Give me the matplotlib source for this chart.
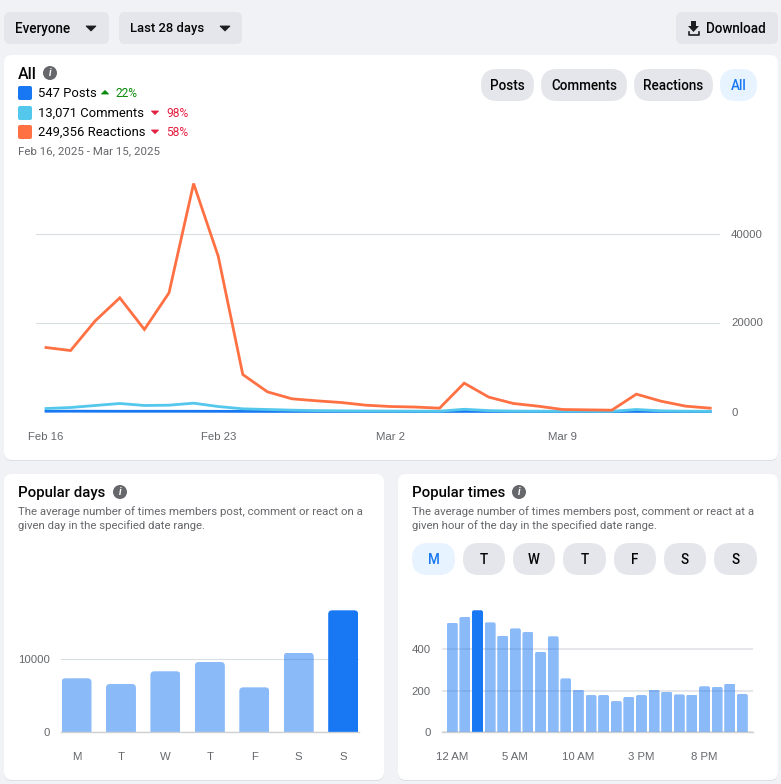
import matplotlib
matplotlib.use('Agg')
import matplotlib.pyplot as plt
from matplotlib.patches import FancyBboxPatch, Circle, Polygon
from matplotlib.transforms import IdentityTransform

W, H = 781, 784
UI_FONT = 'Roboto'
CHART_FONT = 'Liberation Sans'
BLUE = '#1877f2'
GREY = '#65676b'
PILL = '#e4e6eb'
ACTIVE = '#e7f3ff'

# main chart, one value per day from Feb 16 to Mar 15
reactions = [14380, 13700, 20370, 25540, 18430, 26660, 51230, 34900, 8310, 4420,
             2850, 2400, 2020, 1420, 1120, 1000, 750, 6370, 3230, 1800,
             1200, 450, 370, 300, 3900, 2320, 1200, 750]
comments = [670, 900, 1350, 1800, 1350, 1420, 1870, 1120, 600, 450,
            300, 200, 150, 120, 100, 80, 70, 500, 200, 100,
            70, 50, 40, 40, 450, 150, 70, 50]
posts = [60, 70, 60, 50, 50, 50, 50, 40, 30, 20,
         15, 15, 15, 15, 10, 10, 10, 15, 10, 10,
         10, 5, 5, 5, 15, 10, 5, 5]
date_ticks = [0, 7, 14, 21]
date_labels = ['Feb 16', 'Feb 23', 'Mar 2', 'Mar 9']

day_labels = ['M', 'T', 'W', 'T', 'F', 'S', 'S']
day_values = [7400, 6620, 8360, 9630, 6160, 10910, 16710]

hour_values = [526, 554, 586, 528, 464, 499, 482, 387, 461, 259, 205, 179,
               179, 150, 170, 179, 205, 195, 182, 181, 221, 218, 234, 184]
hour_ticks = [0, 5, 10, 15, 20]
hour_labels = ['12 AM', '5 AM', '10 AM', '3 PM', '8 PM']

fig = plt.figure(figsize=(W / 100, H / 100), dpi=100, facecolor='#f0f2f5')
bg = fig.add_axes([0, 0, 1, 1])
bg.set_xlim(0, W)
bg.set_ylim(H, 0)
bg.axis('off')


def box(x0, y0, x1, y1, r, color, z=1):
    bg.add_patch(FancyBboxPatch((x0, y0), x1 - x0, y1 - y0, boxstyle='round,pad=0,rounding_size=%g' % r,
                                fc=color, ec='none', zorder=z))


def txt(x, y, s, px=12, color='#050505', ha='left', weight='normal', font=UI_FONT, **kw):
    bg.text(x, y + 0.5, s, fontsize=px * 0.72, color=color, ha=ha, va='center', fontweight=weight,
            family=font, zorder=5, **kw)


def pill(x0, x1, y0, y1, s, active=False, px=13.5):
    box(x0, y0, x1, y1, (y1 - y0) / 2, ACTIVE if active else PILL, 2)
    txt((x0 + x1) / 2, (y0 + y1) / 2, s, px, BLUE if active else '#050505', 'center', 'medium')


def info(x, y):
    bg.add_patch(Circle((x, y), 7, fc=GREY, ec='none', zorder=3))
    txt(x, y - 0.5, 'i', 10, 'white', 'center', 'bold', style='italic')


def arrow(x, y, up, color):
    d = -1 if up else 1
    bg.add_patch(Polygon([(x - 3.5, y - d * 1.5), (x + 3.5, y - d * 1.5), (x, y + d * 2)], fc=color, ec=color,
                         lw=0.6, joinstyle='round', zorder=3))


def card(x0, y0, x1, y1):
    box(x0, y0 + 1, x1, y1 + 1, 8, '#dcdfe4', 1)
    box(x0, y0, x1, y1, 8, 'white', 1.5)


# page controls
for x0, x1, label, lx, cx, size in [(4, 109, 'Everyone', 15, 91, 13.5), (119, 242, 'Last 28 days', 130, 225, 13)]:
    box(x0, 12, x1, 44, 6, PILL, 2)
    txt(lx, 28, label, size, weight='medium')
    bg.add_patch(Polygon([(cx - 5, 26), (cx + 5, 26), (cx, 31)], fc='#1c1e21', ec='#1c1e21', lw=0.6, zorder=3))
box(676, 12, 778, 44, 6, PILL, 2)
txt(706, 28, 'Download', 13.5, weight='medium')
bg.add_patch(Polygon([(691, 21), (696, 21), (696, 26), (699, 26), (693.5, 32), (688, 26), (691, 26)],
                     fc='#1c1e21', ec='none', zorder=3))
bg.plot([688.5, 688.5, 698.5, 698.5], [32, 34.5, 34.5, 32], color='#1c1e21', lw=1.2, zorder=3)

card(4, 55, 778, 460)
card(4, 474, 384, 780)
card(398, 474, 778, 780)

# main card header
txt(18, 74, 'All', 16, weight='medium')
info(50, 73)
legend_rows = [(93, BLUE, '547 Posts', 105, True, '#0a8a0a', 116, '22%'),
               (113, '#54c7ec', '13,071 Comments', 155, False, '#e41e3f', 166, '98%'),
               (132, '#ff7043', '249,356 Reactions', 155, False, '#e41e3f', 166, '58%')]
for y, c, label, ax_, up, pc, px_, pct in legend_rows:
    box(18, y - 7, 32, y + 7, 2, c, 2)
    txt(38, y, label, 13)
    arrow(ax_, y - 0.5, up, pc)
    txt(px_, y - 0.5, pct, 12, pc)
txt(18, 151, 'Feb 16, 2025 - Mar 15, 2025', 11.5, GREY)
pill(481, 534, 69, 101, 'Posts')
pill(541, 627, 69, 101, 'Comments')
pill(634, 713, 69, 101, 'Reactions')
pill(720, 757, 69, 101, 'All', True)

# lower card headers
txt(18, 492, 'Popular days', 15, weight='medium')
info(120, 492)
txt(18, 511, 'The average number of times members post, comment or react on a', 11.4, GREY)
txt(18, 525, 'given day in the specified date range.', 11.4, GREY)
txt(412, 492, 'Popular times', 15, weight='medium')
info(519, 492)
txt(412, 511, 'The average number of times members post, comment or react at a', 11.4, GREY)
txt(412, 525, 'given hour of the day in the specified date range.', 11.4, GREY)
pill_edges = [(412, 455), (463, 505), (513, 555), (563, 606), (614, 656), (664, 706), (714, 757)]
for i, (x0, x1) in enumerate(pill_edges):
    pill(x0, x1, 543, 575, day_labels[i], i == 0)


def chart_axes(left, top, right, bottom, x0_px, step, y_per_px):
    # axes placed in pixels, limits worked out so that index 0 sits on x0_px
    ax = fig.add_axes([left / W, 1 - bottom / H, (right - left) / W, (bottom - top) / H])
    ax.patch.set_alpha(0)
    ax.set_xlim((left - x0_px) / step, (right - x0_px) / step)
    ax.set_ylim(0, (bottom - top) * y_per_px)
    for s in ax.spines.values():
        s.set_visible(False)
    ax.set_axisbelow(True)
    return ax


def style_ticks(ax, xpad_px, ypad_px, grid_color='#dadde1', grid_lw=0.8):
    ax.grid(axis='y', color=grid_color, lw=grid_lw)
    ax.grid(axis='x', visible=False)
    ax.tick_params(axis='x', length=0, pad=xpad_px * 0.72, labelsize=8.2, labelcolor=GREY,
                   labelfontfamily=CHART_FONT)
    ax.tick_params(axis='y', length=0, pad=ypad_px * 0.72, labelsize=8.2, labelcolor=GREY,
                   labelfontfamily=CHART_FONT)


def round_tops(ax, bars, r):
    fig.canvas.draw()
    for b in bars:
        e = b.get_window_extent()
        clip = FancyBboxPatch((e.x0, e.y0 - 10), e.width, e.height + 10,
                              boxstyle='round,pad=0,rounding_size=%g' % r, transform=IdentityTransform())
        b.set_clip_path(clip)


# main line chart
ax = chart_axes(36, 170, 720, 411.5, 46, 24.6, 20000 / 89)
days = list(range(len(reactions)))
ax.plot(days, posts, color=BLUE, lw=2.0, clip_on=False, zorder=3, solid_joinstyle='miter')
ax.plot(days, comments, color='#54c7ec', lw=2.0, clip_on=False, zorder=4, solid_joinstyle='miter')
ax.plot(days, reactions, color='#ff7043', lw=2.0, clip_on=False, zorder=5, solid_joinstyle='miter')
ax.yaxis.tick_right()
ax.set_yticks([0, 20000, 40000])
ax.set_xticks(date_ticks)
ax.set_xticklabels(date_labels)
style_ticks(ax, 21, 11)

# popular days
ax2 = chart_axes(61, 590, 359, 732.3, 76.5, 44.45, 10000 / 73)
alphas2 = [0.5] * 6 + [1]
bars2 = ax2.bar(range(len(day_values)), day_values, width=30 / 44.45, color=BLUE)
for b, a in zip(bars2, alphas2):
    b.set_alpha(a)
ax2.set_yticks([0, 10000])
ax2.set_xticks(range(len(day_labels)))
ax2.set_xticklabels(day_labels)
ax2.axhline(0, color='#ced0d4', lw=1.0, clip_on=False, zorder=1)
style_ticks(ax2, 20, 11)
round_tops(ax2, bars2, 4)

# popular times
ax3 = chart_axes(442, 590, 753, 732.3, 452.3, 12.61, 200 / 41.65)
bars3 = ax3.bar(range(len(hour_values)), hour_values, width=11 / 12.61, color=BLUE)
for i, b in enumerate(bars3):
    b.set_alpha(1 if i == 2 else 0.5)
ax3.set_yticks([0, 200, 400])
ax3.set_xticks(hour_ticks)
ax3.set_xticklabels(hour_labels)
ax3.axhline(0, color='#ced0d4', lw=1.0, clip_on=False, zorder=1)
style_ticks(ax3, 20, 11, '#e6e7ea', 1.4)
round_tops(ax3, bars3, 2)

fig.savefig('out.png', dpi=100)
